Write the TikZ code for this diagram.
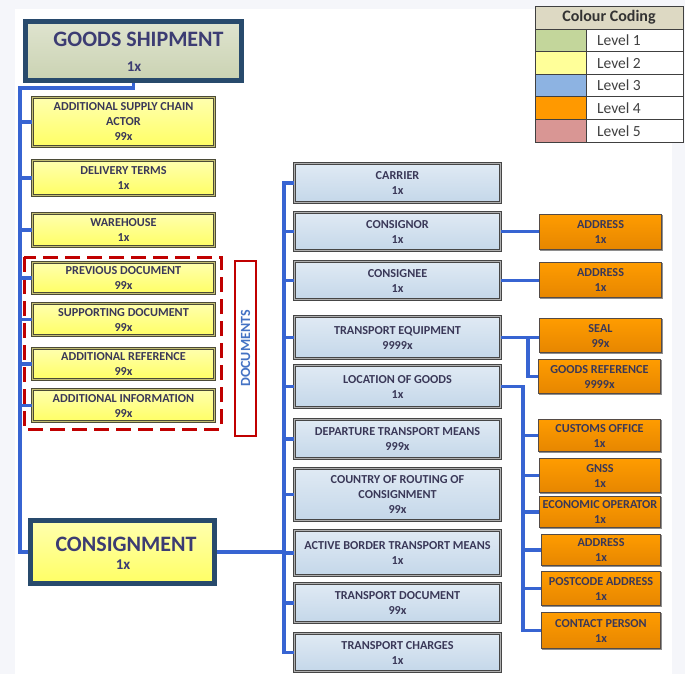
\documentclass[tikz,border=0pt]{standalone}
\usepackage{fontspec}
\setmainfont{Carlito}
\usetikzlibrary{shadows,calc}
\definecolor{bgside}{RGB}{245,246,250}
\definecolor{conn}{RGB}{55,100,210}
\definecolor{txt}{RGB}{58,56,88}
\definecolor{gstxt}{RGB}{60,60,115}
\definecolor{gstop}{RGB}{223,228,207}
\definecolor{gsbot}{RGB}{202,210,178}
\definecolor{gsborder}{RGB}{40,74,108}
\definecolor{ytop}{RGB}{255,255,175}
\definecolor{ybot}{RGB}{255,255,100}
\definecolor{yline}{RGB}{75,75,55}
\definecolor{yband}{RGB}{195,190,115}
\definecolor{btop}{RGB}{224,234,244}
\definecolor{bbot}{RGB}{196,215,233}
\definecolor{bline}{RGB}{70,70,70}
\definecolor{bband}{RGB}{175,175,175}
\definecolor{otop}{RGB}{255,156,0}
\definecolor{obot}{RGB}{230,134,0}
\definecolor{oline}{RGB}{85,75,70}
\definecolor{docred}{RGB}{192,0,0}
\definecolor{docblue}{RGB}{68,114,196}
\definecolor{legline}{RGB}{64,64,64}
\definecolor{leghead}{RGB}{221,217,195}
\definecolor{lvA}{RGB}{195,214,155}
\definecolor{lvB}{RGB}{255,255,153}
\definecolor{lvC}{RGB}{141,179,226}
\definecolor{lvD}{RGB}{255,153,0}
\definecolor{lvE}{RGB}{217,150,148}
\definecolor{legtxt}{RGB}{64,64,64}
\newcommand\mybox[7]{%
  \node[#1, minimum width={#5-#3-2.5}, minimum height={#6-#4-2.5}] (#2) at ({(#3+#5)/2},{(#4+#6)/2}) {#7};}
\begin{document}
\begin{tikzpicture}[x=1pt,y=-1pt,
  boxbase/.style={inner sep=1pt, align=center, text=txt,
    font=\bfseries\fontsize{12.2}{15}\selectfont,
    drop shadow={shadow xshift=1.2pt,shadow yshift=-1.2pt,opacity=0.3,fill=black}},
  lvtwo/.style={boxbase, draw=yline, line width=0.8pt, double=yband, double distance=1.3pt,
    top color=ytop, bottom color=ybot},
  lvthree/.style={boxbase, draw=bline, line width=0.8pt, double=bband, double distance=1.4pt,
    top color=btop, bottom color=bbot},
  lvfour/.style={boxbase, draw=oline, line width=0.8pt, top color=otop, bottom color=obot,
    drop shadow={shadow xshift=0.8pt,shadow yshift=-0.8pt,opacity=0.2,fill=black}},
  bigbox/.style={draw=gsborder, line width=5pt, inner sep=0pt,
    drop shadow={shadow xshift=1.2pt,shadow yshift=-1.2pt,opacity=0.3,fill=black}},
  connline/.style={draw=conn, line width=3.2pt},
  thinconn/.style={draw=conn, line width=2.2pt},
  legcell/.style={draw=legline, line width=0.7pt, minimum width=51, minimum height=22.6, inner sep=0pt},
  legtext/.style={draw=legline, line width=0.7pt, fill=white, minimum width=97, minimum height=22.6, inner sep=0pt},
  leglabel/.style={anchor=west, inner sep=0pt, text=legtxt, font=\fontsize{15.5}{17}\selectfont}
]
\useasboundingbox (0,0) rectangle (685,674);
\fill[bgside] (0,0) rectangle (685,674);
\fill[white] (15,9) rectangle (672,674);

% ---------- Level 1 : Goods shipment ----------
\node[bigbox, top color=gstop, bottom color=gsbot, minimum width=216, minimum height=59] (gs) at (133.5,51) {};
\node[text=gstxt, font=\bfseries\fontsize{22}{24}\selectfont, inner sep=0pt] (gstitle) at (138.5,39) {GOODS SHIPMENT};
\node[text=gstxt, font=\bfseries\fontsize{15}{16}\selectfont, inner sep=0pt] (gsmult) at (134,67) {1x};

% ---------- Level 2 ----------
\mybox{lvtwo}{asca}{31}{96}{216}{148}{ADDITIONAL SUPPLY CHAIN\\ACTOR\\99x}
\mybox{lvtwo}{dterms}{31}{159}{216}{197}{DELIVERY TERMS\\1x}
\mybox{lvtwo}{whouse}{31}{212}{216}{248}{WAREHOUSE\\1x}
\mybox{lvtwo}{prevdoc}{31}{261}{216}{295}{PREVIOUS DOCUMENT\\99x}
\mybox{lvtwo}{suppdoc}{31}{302}{216}{337}{SUPPORTING DOCUMENT\\99x}
\mybox{lvtwo}{addref}{31}{347}{216}{381}{ADDITIONAL REFERENCE\\99x}
\mybox{lvtwo}{addinfo}{31}{388}{216}{423}{ADDITIONAL INFORMATION\\99x}

% documents group
\draw[docred, line width=3pt, dash pattern=on 15pt off 7pt] (24,257) rectangle (221,429);
\node[draw=docred, line width=2.5pt, fill=white, minimum width=21, minimum height=175, inner sep=0pt] (docs) at (245.5,348.5) {};
\node[rotate=90, text=docblue, font=\bfseries\fontsize{14}{16}\selectfont, inner sep=0pt] (docslabel) at (docs.center) {DOCUMENTS};

% consignment
\node[bigbox, top color=ytop, bottom color=ybot, minimum width=184, minimum height=63] (cons) at (122.5,552) {};
\node[text=gstxt, font=\bfseries\fontsize{22}{24}\selectfont, inner sep=0pt] (constitle) at (126,544) {CONSIGNMENT};
\node[text=gstxt, font=\bfseries\fontsize{15}{16}\selectfont, inner sep=0pt] (consmult) at (123,565) {1x};

% ---------- Level 3 ----------
\mybox{lvthree}{carrier}{293}{162}{502}{204}{CARRIER\\1x}
\mybox{lvthree}{consignor}{293}{211}{502}{252}{CONSIGNOR\\1x}
\mybox{lvthree}{consignee}{293}{260}{502}{301}{CONSIGNEE\\1x}
\mybox{lvthree}{tequip}{293}{315}{502}{360}{TRANSPORT EQUIPMENT\\9999x}
\mybox{lvthree}{lgoods}{293}{364}{502}{409}{LOCATION OF GOODS\\1x}
\mybox{lvthree}{dtm}{293}{418}{502}{460}{DEPARTURE TRANSPORT MEANS\\999x}
\mybox{lvthree}{croute}{293}{467}{502}{522}{COUNTRY OF ROUTING OF\\CONSIGNMENT\\99x}
\mybox{lvthree}{abtm}{293}{529}{502}{577}{ACTIVE BORDER TRANSPORT MEANS\\1x}
\mybox{lvthree}{tdoc}{293}{582}{502}{624}{TRANSPORT DOCUMENT\\99x}
\mybox{lvthree}{tcharge}{293}{632}{502}{673}{TRANSPORT CHARGES\\1x}

% ---------- Level 4 ----------
\mybox{lvfour}{addrA}{538}{213}{663}{251}{ADDRESS\\1x}
\mybox{lvfour}{addrB}{538}{261}{663}{299}{ADDRESS\\1x}
\mybox{lvfour}{seal}{538}{317}{663}{354}{SEAL\\99x}
\mybox{lvfour}{gref}{537}{358}{662}{395}{GOODS REFERENCE\\9999x}
\mybox{lvfour}{custoff}{537}{418}{662}{453}{CUSTOMS OFFICE\\1x}
\mybox{lvfour}{gnss}{538}{457}{662}{494}{GNSS\\1x}
\mybox{lvfour}{ecop}{538}{495}{662}{529}{ECONOMIC OPERATOR\\1x}
\mybox{lvfour}{addrC}{540}{533}{662}{567}{ADDRESS\\1x}
\mybox{lvfour}{pcaddr}{540}{570}{662}{607}{POSTCODE ADDRESS\\1x}
\mybox{lvfour}{cperson}{540}{611}{662}{650}{CONTACT PERSON\\1x}

% ---------- connectors ----------
\coordinate (tA) at (20,88);
\coordinate (tB) at (284,0);
\coordinate (tC) at (523,0);
\coordinate (tD) at (528,0);
\draw[connline] (gs.south) -- (gs.south |- tA) -- (tA) |- (cons.west);
\foreach \n in {asca,dterms,whouse,prevdoc,suppdoc,addref,addinfo}
  \draw[connline] (tA |- \n.west) -- (\n.west);
\draw[connline] (cons.east) -- (cons.east -| tB);
\draw[connline] (carrier.west) -- (carrier.west -| tB) -- (tcharge.west -| tB) -- (tcharge.west);
\foreach \n in {consignor,consignee,tequip,lgoods,dtm,croute,abtm,tdoc}
  \draw[connline] (tB |- \n.west) -- (\n.west);
\draw[thinconn] (consignor.east) -- (consignor.east -| addrA.west);
\draw[thinconn] (consignee.east) -- (consignee.east -| addrB.west);
\draw[connline] (tequip.east) -- (tequip.east -| seal.west);
\draw[connline] (tequip.east -| tD) |- (gref.west);
\draw[connline] (lgoods.east) -- (lgoods.east -| tC) -- (cperson.west -| tC) -- (cperson.west);
\foreach \n in {custoff,gnss,ecop,addrC,pcaddr}
  \draw[connline] (tC |- \n.west) -- (\n.west);

% ---------- legend ----------
\node[draw=legline, line width=0.7pt, fill=leghead, minimum width=148, minimum height=23, inner sep=0pt,
  font=\bfseries\fontsize{16}{18}\selectfont, text=black!80] (leghd) at (609,17.5) {Colour Coding};
\foreach \c/\t [count=\i] in {lvA/Level 1,lvB/Level 2,lvC/Level 3,lvD/Level 4,lvE/Level 5}{
  \node[legcell, fill=\c] (lc\i) at (560.5,{29+22.6*(\i-0.5)}) {};
  \node[legtext] (lt\i) at (634.5,{29+22.6*(\i-0.5)}) {};
  \node[leglabel] (ll\i) at (597,{29+22.6*(\i-0.5)}) {\t};
}
\end{tikzpicture}
\end{document}
